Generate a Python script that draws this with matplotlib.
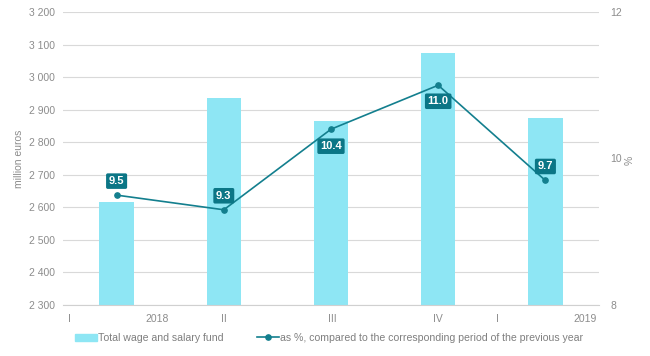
#!/usr/bin/env python3
"""Wage and salary fund by quarter, with annual change."""

import matplotlib
matplotlib.use("Agg")
import matplotlib.pyplot as plt

quarters = ["2018 I", "2018 II", "2018 III", "2018 IV", "2019 I"]
fund = [2616, 2935, 2866, 3075, 2874]  # million euros
pct = [9.5, 9.3, 10.4, 11.0, 9.7]
label_offsets = [14, 14, -17, -16, 14]  # pixels, above (+) / below (-) point

tick_pos = [-0.444, 0.377, 1.0, 2.01, 3.0, 3.55, 4.37]
tick_text = ["I", "2018", "II", "III", "IV", "I", "2019"]

bar_color = "#8EE6F4"
line_color = "#137F8E"
box_color = "#0B7686"
grey = "#8C8C8C"

plt.rcParams["font.family"] = ["Liberation Sans", "DejaVu Sans"]
plt.rcParams["font.size"] = 7.5

fig = plt.figure(figsize=(6.5, 3.56), dpi=100)
ax = fig.add_axes([63 / 650, 1 - 305 / 356, 536 / 650, 293 / 356])
x = list(range(len(quarters)))

ax.bar(x, [v - 2300 for v in fund], bottom=2300, width=0.32, color=bar_color, zorder=2)
ax.set_xlim(-0.5, 4.5)
ax.set_ylim(2300, 3200)
ax.set_yticks(range(2300, 3201, 100))
ax.set_yticklabels([f"{v // 1000} {v % 1000:03d}" for v in range(2300, 3201, 100)])
ax.grid(axis="y", color="#D9D9D9", linewidth=0.8, zorder=0)
ax.set_axisbelow(True)
for s in ["top", "right", "left"]:
    ax.spines[s].set_visible(False)
ax.spines["bottom"].set_color("#D0D0D0")
ax.tick_params(axis="y", length=0, pad=6, colors=grey)
ax.set_xticks(tick_pos)
ax.set_xticklabels(tick_text)
ax.tick_params(axis="x", length=0, pad=6.5, colors=grey)
ax.set_ylabel("million euros", color=grey, labelpad=3)

ax2 = ax.twinx()
ax2.set_ylim(8, 12)
ax2.set_yticks([8, 10, 12])
for s in ax2.spines.values():
    s.set_visible(False)
ax2.tick_params(axis="y", length=0, pad=8, colors=grey)
ax2.plot(x, pct, color=line_color, linewidth=1.2, marker="o", markersize=3.8, zorder=3)
for xi, v, off in zip(x, pct, label_offsets):
    ax2.annotate(f"{v:.1f}", (xi, v), xytext=(0, off), textcoords="offset pixels",
                 ha="center", va="center", color="white", fontweight="bold", fontsize=8,
                 bbox=dict(boxstyle="round,pad=0.25,rounding_size=0.15", fc=box_color, ec="none"))
fig.text(630 / 650, 1 - 160 / 356, "%", rotation=90, color=grey, ha="center", va="center")

handles = [
    plt.Rectangle((0, 0), 1, 1, color=bar_color),
    plt.Line2D([], [], color=line_color, linewidth=1.2, marker="o", markersize=3.8),
]
fig.legend(handles, ["Total wage and salary fund",
                     "as %, compared to the corresponding period of the previous year"],
           loc="center left", bbox_to_anchor=(65 / 650, 1 - 338 / 356), ncol=2, frameon=False,
           handlelength=2.1, handletextpad=0.1, columnspacing=3.2, labelcolor="#7F7F7F",
           fontsize=7.6)

fig.savefig("out.png", dpi=100)
